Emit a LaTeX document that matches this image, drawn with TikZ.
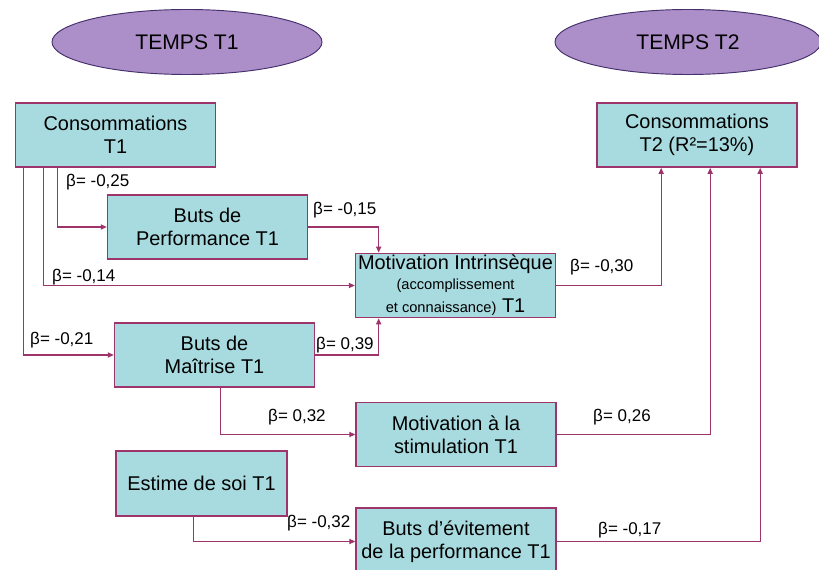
\documentclass[tikz,border=0pt]{standalone}
\usepackage{fontspec}
\setmainfont{Liberation Sans}
\usetikzlibrary{calc,shapes.geometric,arrows.meta}

\definecolor{boxfill}{RGB}{168,219,224}
\definecolor{boxline}{RGB}{158,52,108}
\definecolor{ovalfill}{RGB}{172,142,200}
\definecolor{ovalline}{RGB}{68,48,108}

\tikzset{
  var/.style={draw=boxline, line width=1.4pt, fill=boxfill, align=center,
    minimum width=6cm, minimum height=1.93cm, inner sep=0pt,
    font=\fontsize{17}{19.5}\selectfont},
  temps/.style={ellipse, draw=ovalline, line width=0.8pt, fill=ovalfill,
    minimum width=8.1cm, minimum height=1.95cm, inner sep=0pt,
    font=\fontsize{18}{20}\selectfont},
  link/.style={draw=boxline, line width=0.9pt, -{Triangle[length=5pt,width=4.5pt]}},
  coef/.style={anchor=west, inner sep=0pt, font=\fontsize{14.5}{16}\selectfont}
}

\begin{document}
\begin{tikzpicture}[x=0.03cm, y=-0.03cm]
  \useasboundingbox (0,0) rectangle (819,570);
  \clip (0,0) rectangle (819,570);
  \fill[white] (0,0) rectangle (819,570);

  % temps
  \node[temps] (t1) at (187,42) {TEMPS T1};
  \node[temps, minimum width=7.98cm] (t2) at (688,42) {TEMPS T2};

  % variables
  \node[var] (cT1) at (115.5,135) {Consommations\\T1};
  \node[var] (cT2) at (697,135) {Consommations\\T2 (R²=13\%)};
  \node[var] (perf) at (207.5,227) {Buts de\\Performance T1};
  \node[var, font=\fontsize{17}{17}\selectfont] (motInt) at (455.5,285.5)
    {Motivation Intrinsèque\\[0pt]
     {\fontsize{12.5}{15}\selectfont (accomplissement}\\[3pt]
     {\fontsize{12.5}{15}\selectfont et connaissance)} T1};
  \node[var] (maitrise) at (214.5,355) {Buts de\\Maîtrise T1};
  \node[var] (stim) at (456,434.5) {Motivation à la\\stimulation T1};
  \node[var, minimum width=5.13cm, minimum height=1.95cm] (estime) at (201.5,483.5) {Estime de soi T1};
  \node[var, minimum height=2cm] (evit) at (456,541.5) {Buts d’évitement\\de la performance T1};

  % liens
  \draw[link] ($(cT1.south west)+(43,0)$) |- (perf.west);
  \draw[link] ($(cT1.south west)+(29,0)$) |- (motInt.west);
  \draw[link] ($(cT1.south west)+(9,0)$) |- (maitrise.west);
  \draw[link] (perf.east) -| ($(motInt.north west)+(24,0)$);
  \draw[link] (maitrise.east) -| ($(motInt.south west)+(24,0)$);
  \draw[link] ($(maitrise.south west)+(107,0)$) |- (stim.west);
  \draw[link] ($(estime.south west)+(78,0)$) |- (evit.west);
  \draw[link] (motInt.east) -| ($(cT2.south west)+(65,0)$);
  \draw[link] (stim.east) -| ($(cT2.south west)+(114,0)$);
  \draw[link] (evit.east) -| ($(cT2.south west)+(164,0)$);

  % coefficients
  \node[coef] (b1) at (66,182) {β= -0,25};
  \node[coef] (b2) at (313,210) {β= -0,15};
  \node[coef] (b3) at (52,277) {β= -0,14};
  \node[coef] (b4) at (30,340) {β= -0,21};
  \node[coef] (b5) at (316,345) {β= 0,39};
  \node[coef] (b6) at (570,267) {β= -0,30};
  \node[coef] (b7) at (268,417) {β= 0,32};
  \node[coef] (b8) at (593,417) {β= 0,26};
  \node[coef] (b9) at (287,523) {β= -0,32};
  \node[coef] (b10) at (598,530) {β= -0,17};
\end{tikzpicture}
\end{document}
